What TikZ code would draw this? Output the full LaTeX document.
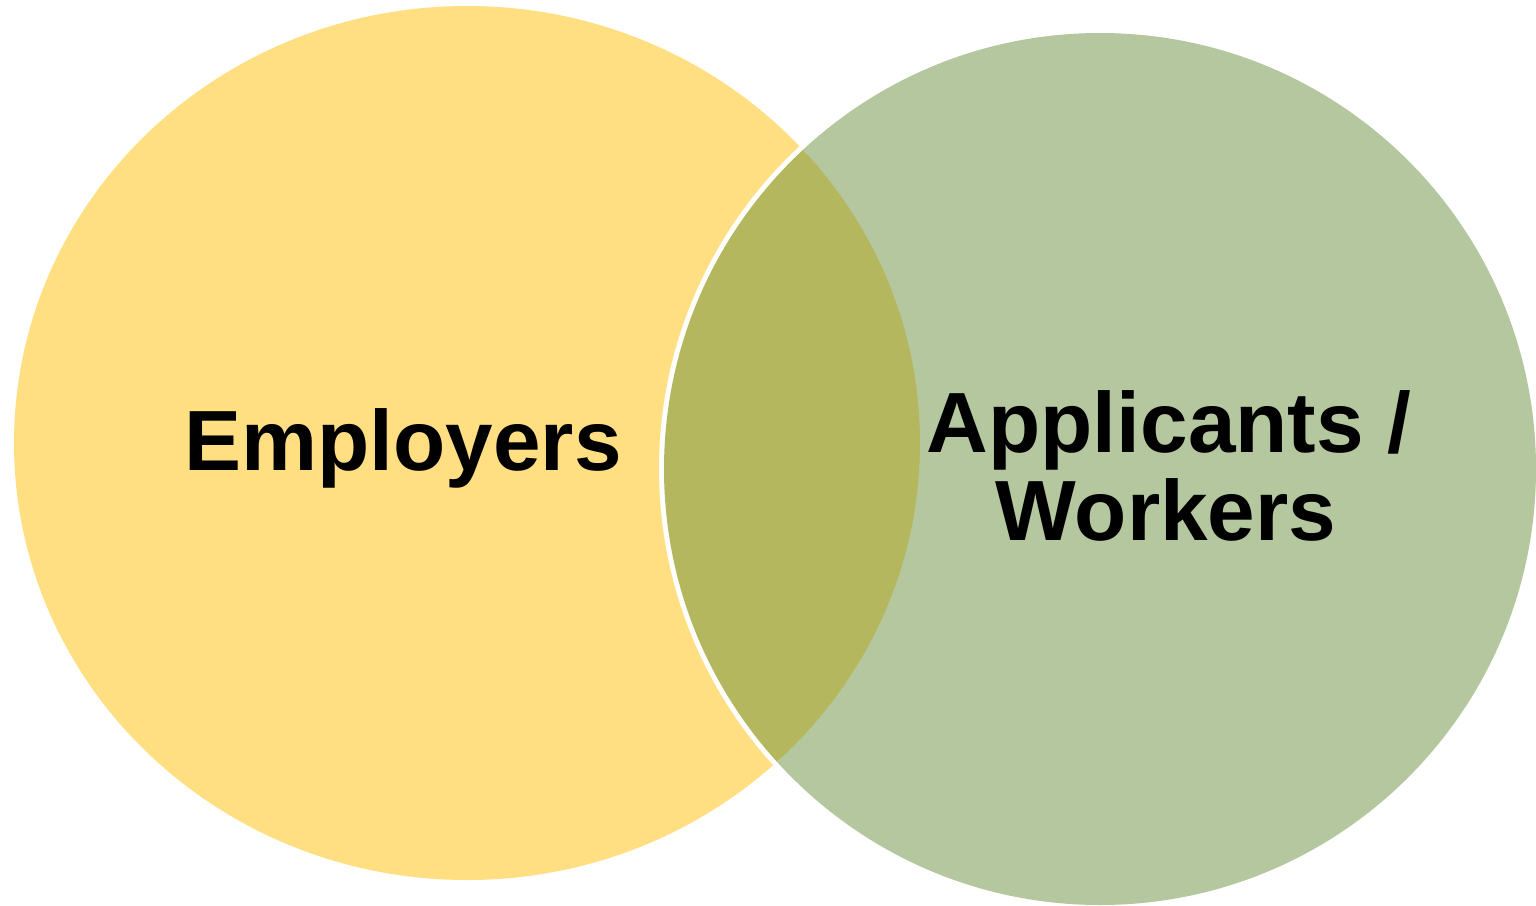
\documentclass[tikz,border=0pt]{standalone}
\usepackage{fontspec}
\setmainfont{Liberation Sans}
\definecolor{empyellow}{HTML}{FFDF82}
\definecolor{workgreen}{HTML}{B4C79E}
\definecolor{overlapolive}{HTML}{B4B75E}
\begin{document}
\begin{tikzpicture}[x=1pt,y=-1pt,
  label text/.style={font=\bfseries\fontsize{85.5}{88}\selectfont, text=black, align=center, inner sep=0pt}]
\useasboundingbox[fill=white] (0,0) rectangle (1536,905);
% ellipses
\fill[empyellow] (467,443) ellipse [x radius=453, y radius=437];
\fill[workgreen] (1100,469) ellipse [x radius=436, y radius=436];
\begin{scope}
  \clip (467,443) ellipse [x radius=453, y radius=437];
  \draw[white, line width=10pt] (1100,469) ellipse [x radius=436, y radius=436];
  \fill[overlapolive] (1100,469) ellipse [x radius=436, y radius=436];
\end{scope}
% labels
\node[label text, anchor=base] (emp) at (403,470) {Employers};
\node[label text, anchor=base] (app) at (1169,452) {Applicants /};
\node[label text, anchor=base] (work) at (1166,540) {Workers};
\end{tikzpicture}
\end{document}
